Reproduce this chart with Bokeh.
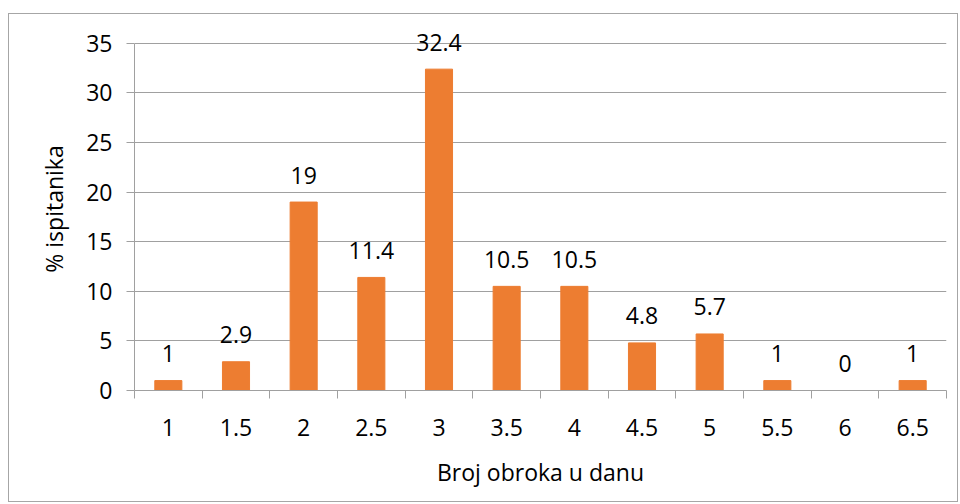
from bokeh.plotting import figure
from bokeh.models import ColumnDataSource, FixedTicker, Range1d, LinearAxis
from bokeh.core.properties import value
from bokeh.embed import file_html
from bokeh.resources import INLINE

categories = ["1", "1.5", "2", "2.5", "3", "3.5", "4", "4.5", "5", "5.5", "6", "6.5"]
values = [1, 2.9, 19, 11.4, 32.4, 10.5, 10.5, 4.8, 5.7, 1, 0, 1]
y_ticks = [0, 5, 10, 15, 20, 25, 30, 35]
x_title = "Broj obroka u danu"
y_title = "% ispitanika"

FONT = "Open Sans"
FS = "23px"
GRAY = "#a0a0a0"
TXT = "#000000"

n = len(categories)
xpos = [i + 0.5 for i in range(n)]
labels = [("%g" % v) for v in values]
src = ColumnDataSource(dict(x=xpos, top=values, label=labels))

p = figure(width=950, height=489, output_backend="svg", toolbar_location=None,
           x_range=Range1d(0, n), y_range=Range1d(0, 36.6),
           x_axis_location=None, y_axis_location=None,
           min_border_left=125, min_border_right=13, min_border_top=13, min_border_bottom=113)
p.margin = (13, 0, 0, 8)
p.styles = {"border": "1px solid #a6a6a6"}
p.outline_line_color = None
p.background_fill_color = "white"
p.border_fill_color = "white"

p.vbar(x="x", top="top", width=0.4, bottom=0, source=src, color="#ED7D31")
p.text(x="x", y="top", text="label", source=src, text_align="center",
       text_baseline="middle", y_offset=-27, text_font_size=FS,
       text_font=value(FONT), text_color=TXT)

# x axis with boundary ticks as minor ticks
xaxis = LinearAxis(ticker=FixedTicker(ticks=xpos, minor_ticks=list(range(n + 1))),
                   major_label_overrides={x: c for x, c in zip(xpos, categories)})
xaxis.axis_label = x_title
xaxis.axis_line_color = GRAY
xaxis.major_tick_line_color = None
xaxis.major_tick_out = 0
xaxis.major_tick_in = 0
xaxis.minor_tick_line_color = GRAY
xaxis.minor_tick_out = 8
xaxis.minor_tick_in = 0
xaxis.major_label_standoff = 20
xaxis.major_label_text_font = FONT
xaxis.major_label_text_font_size = FS
xaxis.major_label_text_color = TXT
xaxis.axis_label_text_font = FONT
xaxis.axis_label_text_font_size = FS
xaxis.axis_label_text_font_style = "normal"
xaxis.axis_label_text_color = TXT
xaxis.axis_label_standoff = 17
p.add_layout(xaxis, "below")

yaxis = LinearAxis(ticker=FixedTicker(ticks=y_ticks, minor_ticks=[]), bounds=(0, 35))
yaxis.axis_label = y_title
yaxis.axis_line_color = GRAY
yaxis.major_tick_line_color = GRAY
yaxis.major_tick_out = 8
yaxis.major_tick_in = 0
yaxis.minor_tick_line_color = None
yaxis.major_label_standoff = 14
yaxis.major_label_text_font = FONT
yaxis.major_label_text_font_size = FS
yaxis.major_label_text_color = TXT
yaxis.axis_label_text_font = FONT
yaxis.axis_label_text_font_size = FS
yaxis.axis_label_text_font_style = "normal"
yaxis.axis_label_text_color = TXT
yaxis.axis_label_standoff = 13
p.add_layout(yaxis, "left")

p.xgrid.visible = False
p.ygrid.ticker = FixedTicker(ticks=y_ticks)
p.ygrid.grid_line_color = GRAY
p.ygrid.grid_line_width = 1
p.ygrid.level = "underlay"

open("out.html", "w").write(file_html(p, INLINE))
